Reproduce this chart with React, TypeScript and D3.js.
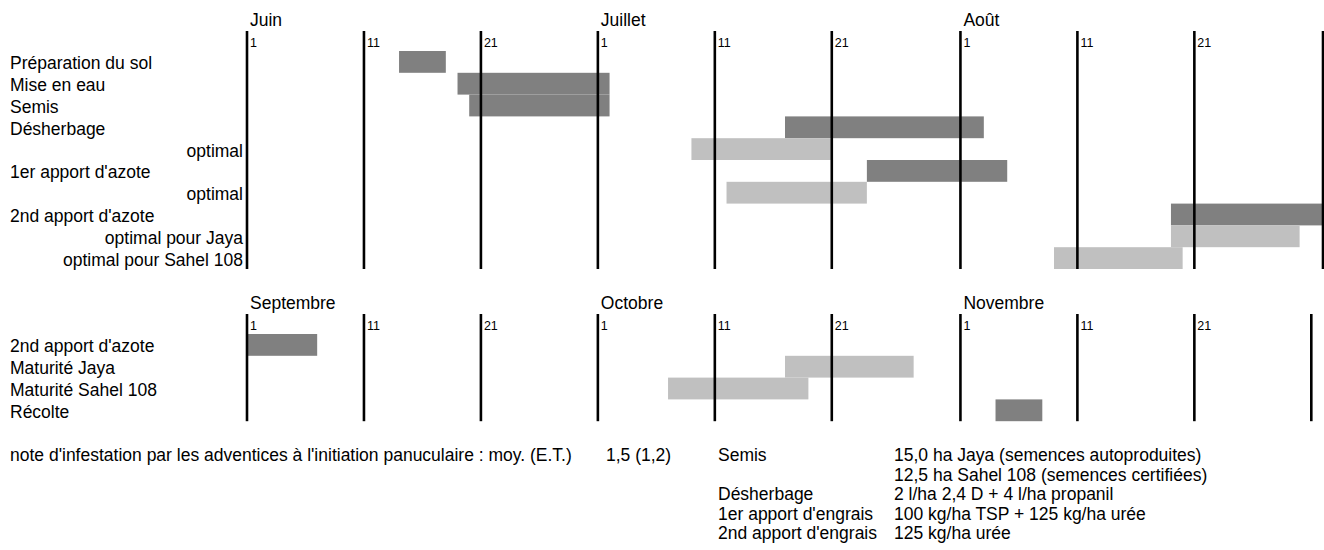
import * as d3 from 'd3';

// --- data -----------------------------------------------------------
// days are counted from the 1st of the first month of each panel
const topMonths = ['Juin', 'Juillet', 'Août'];
const topMonthDays = [30, 31, 31];
const bottomMonths = ['Septembre', 'Octobre', 'Novembre'];
const bottomMonthDays = [30, 31, 30];
const decadeStarts = [1, 11, 21];

const topTasks = [
  'Préparation du sol',
  'Mise en eau',
  'Semis',
  'Désherbage',
  'optimal',
  "1er apport d'azote",
  'optimal',
  "2nd apport d'azote",
  'optimal pour Jaya',
  'optimal pour Sahel 108',
];
const topStart = [13, 18, 19, 46, 38, 53, 41, 79, 79, 69];
const topEnd = [17, 31, 31, 63, 50, 65, 53, 92, 90, 80];
const topOptimal = [false, false, false, false, true, false, true, false, true, true];

const bottomTasks = ["2nd apport d'azote", 'Maturité Jaya', 'Maturité Sahel 108', 'Récolte'];
const bottomStart = [0, 46, 36, 64];
const bottomEnd = [6, 57, 48, 68];
const bottomLight = [false, true, true, false];

const noteLabel = "note d'infestation par les adventices à l'initiation panuculaire : moy. (E.T.)";
const noteValue = '1,5 (1,2)';
const practiceNames = ['Semis', '', 'Désherbage', "1er apport d'engrais", "2nd apport d'engrais"];
const practiceValues = [
  '15,0 ha Jaya (semences autoproduites)',
  '12,5 ha Sahel 108 (semences certifiées)',
  '2 l/ha 2,4 D + 4 l/ha propanil',
  '100 kg/ha TSP + 125 kg/ha urée',
  '125 kg/ha urée',
];

const DARK = '#808080';
const LIGHT = '#c0c0c0';
const FONT = 'Liberation Sans, Arial, Helvetica, sans-serif';
const FS = 17.5;

function ticksFor(monthDays: number[]) {
  const ticks: { day: number; label: string }[] = [];
  let offset = 0;
  monthDays.forEach(n => {
    decadeStarts.forEach(d => ticks.push({ day: offset + d - 1, label: String(d) }));
    offset += n;
  });
  ticks.push({ day: offset, label: '' });
  return ticks;
}

function monthStarts(monthDays: number[]) {
  return d3.cumsum([0, ...monthDays.slice(0, -1)]);
}

type PanelProps = {
  top: number;
  months: string[];
  monthDays: number[];
  tasks: string[];
  start: number[];
  end: number[];
  light: boolean[];
  indent: boolean[];
};

const x = d3.scaleLinear().domain([0, 92]).range([247, 1323]);

function Panel({ top, months, monthDays, tasks, start, end, light, indent }: PanelProps) {
  const rowH = 21.8;
  const y = d3.scaleBand<number>()
    .domain(d3.range(tasks.length))
    .range([top, top + rowH * tasks.length]);
  const ticks = ticksFor(monthDays);
  const mStarts = monthStarts(monthDays);
  const bottom = top + rowH * tasks.length;

  return (
    <g>
      {months.map((m, i) => (
        <text key={m} x={x(mStarts[i]) + 3} y={top - 25} fontSize={FS}>{m}</text>
      ))}
      {tasks.map((t, i) => (
        <text
          key={i}
          x={indent[i] ? 243 : 10}
          y={(y(i) ?? 0) + rowH / 2 + 7.5}
          textAnchor={indent[i] ? 'end' : 'start'}
          fontSize={FS}
        >
          {t}
        </text>
      ))}
      {tasks.map((_, i) => (
        <rect
          key={i}
          x={x(start[i])}
          y={y(i)}
          width={x(end[i]) - x(start[i])}
          height={y.bandwidth()}
          fill={light[i] ? LIGHT : DARK}
        />
      ))}
      {ticks.map((t, i) => (
        <g key={i}>
          <line x1={x(t.day)} x2={x(t.day)} y1={top - 20} y2={bottom} stroke="#000" strokeWidth={2.6} />
          {t.label && (
            <text x={x(t.day) + 3} y={top - 4.5} fontSize={12.5}>{t.label}</text>
          )}
        </g>
      ))}
    </g>
  );
}

export default function App() {
  return (
    <svg
      width={1324}
      height={550}
      style={{ position: 'absolute', left: 0, top: 0, background: '#fff' }}
      fontFamily={FONT}
      fill="#000"
    >
      <Panel
        top={51}
        months={topMonths}
        monthDays={topMonthDays}
        tasks={topTasks}
        start={topStart}
        end={topEnd}
        light={topOptimal}
        indent={topOptimal}
      />
      <Panel
        top={334}
        months={bottomMonths}
        monthDays={bottomMonthDays}
        tasks={bottomTasks}
        start={bottomStart}
        end={bottomEnd}
        light={bottomLight}
        indent={bottomTasks.map(() => false)}
      />
      <text x={10} y={461} fontSize={FS}>{noteLabel}</text>
      <text x={606} y={461} fontSize={FS}>{noteValue}</text>
      {practiceNames.map((p, i) => (
        <text key={'n' + i} x={718} y={461 + i * 19.6} fontSize={FS}>{p}</text>
      ))}
      {practiceValues.map((v, i) => (
        <text key={'v' + i} x={894} y={461 + i * 19.6} fontSize={FS}>{v}</text>
      ))}
    </svg>
  );
}
